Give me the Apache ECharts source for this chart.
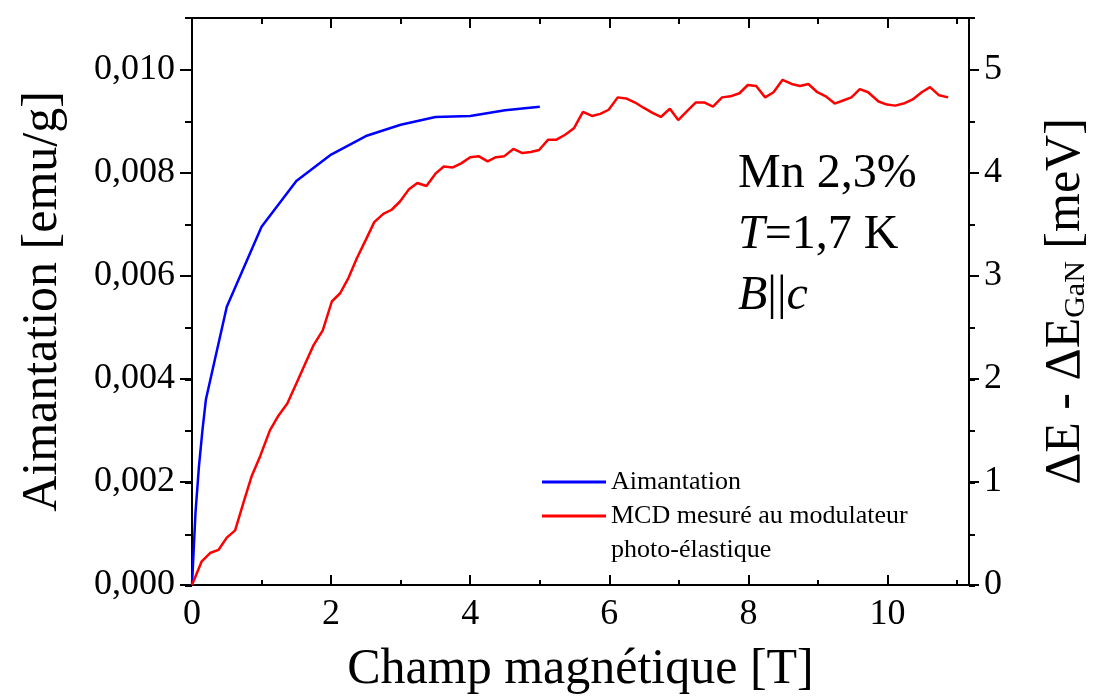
<!DOCTYPE html>
<html>
<head>
<meta charset="UTF-8">
<title>Aimantation et MCD - Mn 2,3%</title>
<script src="https://cdn.jsdelivr.net/npm/echarts@6/dist/echarts.min.js"></script>
<style>
html,body{margin:0;padding:0;background:#fff;}
#chart{width:1101px;height:700px;}
</style>
</head>
<body>
<div id="chart"></div>
<script type="text/javascript">
// aimantation : champ [T] -> emu/g
var champAim = [0, 0.05, 0.1, 0.15, 0.2, 0.3, 0.5, 1, 1.5, 2, 2.5, 3, 3.5, 4, 4.5, 5];
var aimantation = [0, 0.0014, 0.0023, 0.003, 0.0036, 0.0042, 0.0054, 0.00695, 0.00784, 0.00835, 0.00871, 0.00893, 0.00908, 0.0091, 0.00921, 0.00928];

// MCD : champ [T] -> dE - dE_GaN [meV]
var champMcd = [0, 0.14, 0.26, 0.38, 0.50, 0.62, 0.74, 0.86, 0.98, 1.12, 1.24, 1.37, 1.51, 1.63, 1.75, 1.88,
	2.01, 2.13, 2.25, 2.37, 2.50, 2.62, 2.75, 2.87, 2.99, 3.12, 3.24, 3.37, 3.50, 3.62, 3.75, 3.87,
	4.00, 4.12, 4.25, 4.37, 4.49, 4.62, 4.75, 4.87, 4.99, 5.12, 5.24, 5.37, 5.49, 5.62, 5.75, 5.87,
	5.99, 6.12, 6.24, 6.37, 6.49, 6.62, 6.74, 6.87, 6.99, 7.12, 7.24, 7.37, 7.49, 7.62, 7.74, 7.87,
	7.99, 8.11, 8.24, 8.36, 8.49, 8.62, 8.74, 8.86, 8.99, 9.11, 9.24, 9.36, 9.48, 9.60, 9.72, 9.87,
	9.99, 10.11, 10.23, 10.36, 10.49, 10.61, 10.74, 10.87];
var mcd = [0, 0.23, 0.31, 0.34, 0.46, 0.53, 0.80, 1.06, 1.25, 1.50, 1.64, 1.76, 1.97, 2.15, 2.33, 2.47,
	2.75, 2.83, 2.98, 3.17, 3.35, 3.52, 3.60, 3.64, 3.72, 3.84, 3.90, 3.87, 3.99, 4.06, 4.05, 4.09,
	4.15, 4.16, 4.11, 4.15, 4.16, 4.23, 4.19, 4.20, 4.22, 4.32, 4.32, 4.37, 4.43, 4.59, 4.55, 4.57,
	4.61, 4.73, 4.72, 4.68, 4.63, 4.58, 4.54, 4.62, 4.51, 4.60, 4.68, 4.68, 4.64, 4.73, 4.74, 4.77,
	4.85, 4.84, 4.73, 4.78, 4.90, 4.86, 4.84, 4.86, 4.78, 4.74, 4.67, 4.70, 4.73, 4.81, 4.78, 4.69,
	4.66, 4.65, 4.67, 4.71, 4.78, 4.83, 4.75, 4.73];

var nomAim = 'Aimantation';
var nomMcd = 'MCD mesuré au modulateur photo-élastique';

var police = 'Liberation Serif';
var noir = '#000';

function paires(xs, ys) {
	var out = [];
	for (var i = 0; i < xs.length; i++) out.push([xs[i], ys[i]]);
	return out;
}

function axeX(grid, pos, interval, len, labels) {
	return {
		type: 'value', gridIndex: grid, position: pos,
		min: 0, max: 11.17, interval: interval,
		axisLine: {show: grid === 0, onZero: false, lineStyle: {color: noir, width: 2}},
		axisTick: {show: true, inside: true, length: len, lineStyle: {color: noir, width: 2}},
		axisLabel: {show: labels, showMaxLabel: false, margin: 12, color: noir, fontSize: 36, fontFamily: police},
		splitLine: {show: false}
	};
}

function axeY(grid, pos, max, interval, len, labels, fmt) {
	return {
		type: 'value', gridIndex: grid, position: pos,
		min: 0, max: max, interval: interval,
		axisLine: {show: grid === 0, onZero: false, lineStyle: {color: noir, width: 2}},
		axisTick: {show: true, inside: false, length: len, lineStyle: {color: noir, width: 2}},
		axisLabel: {show: labels, showMaxLabel: false, margin: pos === 'left' ? 17 : 15, color: noir,
			fontSize: 36, fontFamily: police, formatter: fmt},
		splitLine: {show: false}
	};
}

var xBas = axeX(0, 'bottom', 2, 10, true);
xBas.name = 'Champ magnétique [T]';
xBas.nameLocation = 'middle';
xBas.nameGap = 60;
xBas.nameTextStyle = {fontSize: 50, fontFamily: police, color: noir};

var yGauche = axeY(0, 'left', 0.011, 0.002, 12, true, function (v) { return v.toFixed(3).replace('.', ','); });
yGauche.name = 'Aimantation [emu/g]';
yGauche.nameLocation = 'middle';
yGauche.nameRotate = 90;
yGauche.nameGap = 124;
yGauche.nameTextStyle = {fontSize: 50, fontFamily: police, color: noir};

var yDroite = axeY(0, 'right', 5.5, 1, 10, true, function (v) { return String(v); });
yDroite.name = '{a|ΔE - ΔE}{s|GaN}{a| [meV]}';
yDroite.nameLocation = 'middle';
yDroite.nameRotate = 90;
yDroite.nameGap = 72;
yDroite.nameTextStyle = {
	fontSize: 50, fontFamily: police, color: noir,
	rich: {
		a: {fontSize: 50, fontFamily: police, color: noir, lineHeight: 50, verticalAlign: 'top'},
		s: {fontSize: 30, fontFamily: police, color: noir, lineHeight: 30, verticalAlign: 'bottom', padding: [28, 0, 0, 0]}
	}
};

var texteLegende = {fontSize: 26, fontFamily: police, color: noir, lineHeight: 34};

var option = {
	animation: false,
	backgroundColor: '#fff',
	grid: [
		{left: 192, right: 132, top: 18, bottom: 114},
		{left: 192, right: 132, top: 18, bottom: 114}
	],
	xAxis: [
		xBas,
		axeX(0, 'top', 2, 10, false),
		axeX(1, 'bottom', 1, 6, false),
		axeX(1, 'top', 1, 6, false)
	],
	yAxis: [
		yGauche,
		yDroite,
		axeY(1, 'left', 0.011, 0.001, 7, false),
		axeY(1, 'right', 5.5, 0.5, 6, false)
	],
	legend: [
		{data: [nomAim], left: 537, top: 460, orient: 'vertical', icon: 'rect', itemWidth: 64, itemHeight: 3,
			itemGap: 0, textStyle: texteLegende},
		{data: [nomMcd], left: 537, top: 460, orient: 'vertical', icon: 'rect', itemWidth: 64, itemHeight: 3,
			itemGap: 0, textStyle: texteLegende,
			formatter: function () { return '\nMCD mesuré au modulateur\nphoto-élastique'; }}
	],
	graphic: [{
		type: 'text', left: 738, top: 150,
		style: {
			text: '{n|Mn 2,3%}\n{i|T}{n|=1,7 K}\n{i|B}{n|||}{i|c}',
			fill: noir,
			rich: {
				n: {fontSize: 48, fontFamily: police, fill: noir, lineHeight: 61},
				i: {fontSize: 48, fontFamily: police, fill: noir, lineHeight: 61, fontStyle: 'italic'}
			}
		}
	}],
	series: [
		{
			name: nomAim, type: 'line', xAxisIndex: 0, yAxisIndex: 0,
			data: paires(champAim, aimantation),
			showSymbol: false, symbol: 'none', smooth: false,
			lineStyle: {color: '#0000ff', width: 2.5}, itemStyle: {color: '#0000ff'}
		},
		{
			name: nomMcd, type: 'line', xAxisIndex: 0, yAxisIndex: 1,
			data: paires(champMcd, mcd),
			showSymbol: false, symbol: 'none', smooth: false,
			lineStyle: {color: '#ff0000', width: 2.5}, itemStyle: {color: '#ff0000'}
		}
	]
};

var myChart = echarts.init(document.getElementById('chart'));
myChart.setOption(option);
</script>
</body>
</html>
